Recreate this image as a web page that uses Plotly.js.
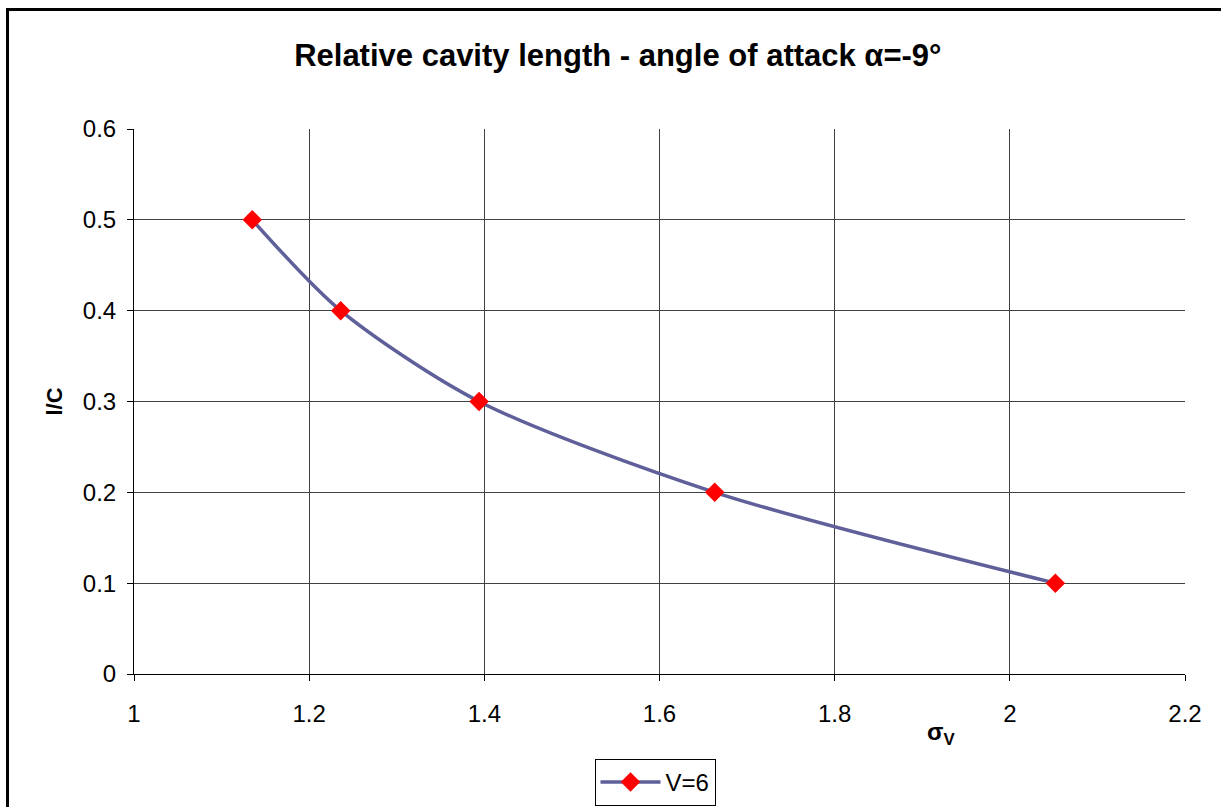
<!DOCTYPE html>
<html>
<head>
<meta charset="utf-8">
<script src="https://cdn.plot.ly/plotly-3.0.1.min.js"></script>
<style>
  html, body { margin: 0; padding: 0; background: #fff; }
  #chart { position: absolute; left: 0; top: 0; width: 1221px; height: 807px; }
  #frame { position: absolute; left: 6px; top: 8px; width: 1300px; height: 900px;
           border-left: 3px solid #000; border-top: 3px solid #000; pointer-events: none; }
</style>
</head>
<body>
<div id="chart"></div>
<div id="frame"></div>
<script>
// Data
const sigmaV = [1.135, 1.236, 1.394, 1.663, 2.052];
const lOverC = [0.5, 0.4, 0.3, 0.2, 0.1];
const seriesName = "V=6";
const xTicks = [1, 1.2, 1.4, 1.6, 1.8, 2, 2.2];
const yTicks = [0, 0.1, 0.2, 0.3, 0.4, 0.5, 0.6];

const font = "Liberation Sans, Arial, sans-serif";

const trace = {
  x: sigmaV,
  y: lOverC,
  name: seriesName,
  type: "scatter",
  mode: "lines+markers",
  line: { color: "#5f5f9a", width: 3.5, shape: "spline", smoothing: 0.8 },
  marker: { symbol: "diamond", color: "#ff0000", size: 15, line: { width: 0 } },
  showlegend: true
};

const layout = {
  width: 1221,
  height: 807,
  paper_bgcolor: "#ffffff",
  plot_bgcolor: "#ffffff",
  margin: { l: 134, r: 36, t: 129, b: 133 },
  font: { family: font, size: 24, color: "#000" },
  title: {
    text: "<b>Relative cavity length - angle of attack α=-9°</b>",
    font: { family: font, size: 31, color: "#000" },
    xref: "container", x: 0.506, xanchor: "center",
    yref: "container", y: 1 - 55 / 807, yanchor: "middle"
  },
  xaxis: {
    range: [1, 2.2],
    tickvals: xTicks,
    ticktext: xTicks.map(String),
    showgrid: true, gridcolor: "#404040", gridwidth: 1,
    showline: true, linecolor: "#000", linewidth: 1,
    ticks: "outside", ticklen: 6, tickcolor: "#000",
    ticklabelstandoff: 12,
    tickfont: { family: font, size: 24 },
    zeroline: false, fixedrange: true, automargin: false
  },
  yaxis: {
    range: [0, 0.6],
    tickvals: yTicks,
    ticktext: yTicks.map(String),
    showgrid: true, gridcolor: "#404040", gridwidth: 1,
    showline: true, linecolor: "#000", linewidth: 1,
    ticks: "outside", ticklen: 6, tickcolor: "#000",
    ticklabelstandoff: 6,
    tickfont: { family: font, size: 24 },
    zeroline: false, fixedrange: true, automargin: false,
    title: { text: "<b>l/C</b>", font: { family: font, size: 22 }, standoff: 14 }
  },
  annotations: [
    {
      text: "<b>σ<sub>V</sub></b>",
      xref: "paper", yref: "paper",
      x: (941 - 134) / 1051, y: (674 - 733) / 545,
      xanchor: "center", yanchor: "middle",
      showarrow: false,
      font: { family: font, size: 24, color: "#000" }
    }
  ],
  legend: {
    orientation: "h",
    xref: "container", x: 655 / 1221, xanchor: "center",
    yref: "container", y: (807 - 759) / 807, yanchor: "top",
    itemwidth: 60,
    bordercolor: "#000", borderwidth: 1,
    bgcolor: "#fff",
    font: { family: font, size: 24 }
  },
  showlegend: true
};

Plotly.newPlot("chart", [trace], layout, { displayModeBar: false, staticPlot: true });
</script>
</body>
</html>
